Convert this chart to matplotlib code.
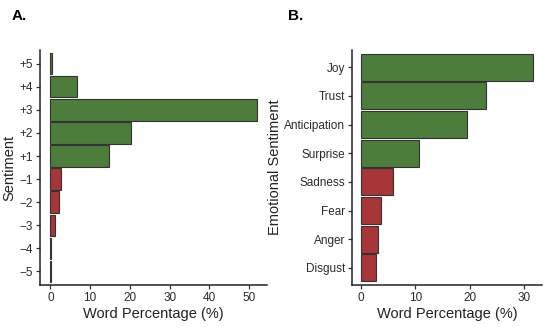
import matplotlib
matplotlib.use("Agg")
import matplotlib.pyplot as plt

plt.rcParams['font.family'] = ['Liberation Sans', 'DejaVu Sans']

sent_labels = ['+5', '+4', '+3', '+2', '+1', '\u22121', '\u22122', '\u22123', '\u22124', '\u22125']
sent_values = [0.4, 6.8, 51.9, 20.2, 14.8, 2.8, 2.2, 1.3, 0.25, 0.1]

emo_labels = ['Joy', 'Trust', 'Anticipation', 'Surprise', 'Sadness', 'Fear', 'Anger', 'Disgust']
emo_values = [31.7, 23.0, 19.5, 10.7, 5.9, 3.7, 3.1, 2.7]

GREEN = '#4d7d3b'
RED = '#a83538'

fig = plt.figure(figsize=(5.5, 3.27), dpi=100)
axA = fig.add_axes([0.0727, 0.1284, 0.4128, 0.7186])
axB = fig.add_axes([0.6405, 0.1284, 0.3445, 0.7186])

def style(ax):
    for s in ['top', 'right']:
        ax.spines[s].set_visible(False)
    for s in ['left', 'bottom']:
        ax.spines[s].set_linewidth(1.1)
        ax.spines[s].set_color('#222222')
    ax.tick_params(axis='both', length=3, width=0.9, color='#333333',
                   labelsize=8.5, labelcolor='#2a2a2a', pad=2)

# Panel A
n = len(sent_values)
ypos = [n - 1 - i for i in range(n)]
colorsA = [GREEN if l.startswith('+') else RED for l in sent_labels]
axA.barh(ypos, sent_values, height=0.92, color=colorsA, edgecolor='#333333', linewidth=0.8)
axA.set_yticks(ypos)
axA.set_yticklabels(sent_labels)
axA.set_ylim(-0.6, n - 0.4)
axA.set_xlim(-2.6, 54.5)
axA.set_xticks([0, 10, 20, 30, 40, 50])
axA.set_xlabel('Word Percentage (%)', fontsize=10.5, color='#222222', labelpad=2)
axA.set_ylabel('Sentiment', fontsize=10.5, color='#222222', labelpad=2)
style(axA)

# Panel B
m = len(emo_values)
ypos2 = [m - 1 - i for i in range(m)]
colorsB = [GREEN] * 4 + [RED] * 4
axB.barh(ypos2, emo_values, height=0.95, color=colorsB, edgecolor='#333333', linewidth=0.8)
axB.set_yticks(ypos2)
axB.set_yticklabels(emo_labels)
axB.set_ylim(-0.6, m - 0.4)
axB.set_xlim(-1.58, 33.3)
axB.set_xticks([0, 10, 20, 30])
axB.set_xlabel('Word Percentage (%)', fontsize=10.5, color='#222222', labelpad=2)
axB.set_ylabel('Emotional Sentiment', fontsize=10.5, color='#222222', labelpad=2)
style(axB)

fig.text(12 / 550, 1 - 16 / 327, 'A.', fontsize=11, fontweight='bold', va='center', ha='left')
fig.text(288 / 550, 1 - 16 / 327, 'B.', fontsize=11, fontweight='bold', va='center', ha='left')

fig.savefig('out.png', dpi=100)
